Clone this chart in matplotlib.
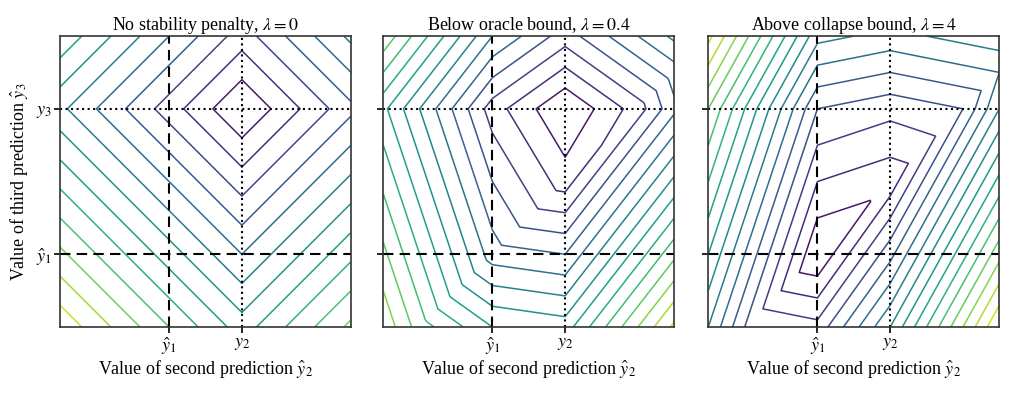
"""Loss landscape of the third forecast revision under a stability penalty.

Loss = |p2 - y2| + |p3 - y3| + lambda * (|p2 - p1| + |p3 - p2|),
drawn over the second (x) and third (y) prediction for three lambdas.
"""
import matplotlib

matplotlib.use("Agg")
import matplotlib.pyplot as plt
import numpy as np

# Reference points (first prediction and the two targets)
y_hat1 = 0.0
y2 = 1.0
y3 = 2.0

# Plot window in prediction units
x_range = [-1.5, 2.5]
y_range = [-1.0, 3.0]

# One panel per penalty strength
lambdas = [0, 0.4, 4]
titles = ["No stability penalty", "Below oracle bound", "Above collapse bound"]
level_starts = [0.0, 0.8, 3.0]
level_steps = [0.4, 0.4, 1.5]

x_ticklabels = [r"$\hat{y}_1$", r"$y_2$"]
y_ticklabels = [r"$\hat{y}_1$", r"$y_3$"]

plt.rcParams["font.family"] = ["Liberation Serif", "DejaVu Serif"]
plt.rcParams["mathtext.fontset"] = "stix"


def loss(p2, p3, lam):
    return np.abs(p2 - y2) + np.abs(p3 - y3) + lam * (np.abs(p2 - y_hat1) + np.abs(p3 - p2))


xs = np.linspace(x_range[0], x_range[1], 161)
ys = np.linspace(y_range[0], y_range[1], 161)
X, Y = np.meshgrid(xs, ys)

fig = plt.figure(figsize=(10.24, 3.95), dpi=100)
lefts = [0.0586, 0.3743, 0.6917]

for i, (lam, title) in enumerate(zip(lambdas, titles)):
    ax = fig.add_axes([lefts[i], 0.172, 0.2842, 0.7367])
    Z = loss(X, Y, lam)
    levels = np.arange(level_starts[i], Z.max(), level_steps[i])
    # norm runs a little past the top level, so the outermost line is yellow-green
    ax.contour(X, Y, Z, levels=levels, cmap="viridis", linewidths=1.1,
               vmin=levels[0], vmax=levels[-1] + level_steps[i])

    ax.axvline(y_hat1, color="black", linestyle=(0, (5, 3)), lw=1.5)
    ax.axhline(y_hat1, color="black", linestyle=(0, (5, 3)), lw=1.5)
    ax.axvline(y2, color="black", linestyle=":", lw=1.5)
    ax.axhline(y3, color="black", linestyle=":", lw=1.5)

    ax.set_xlim(x_range)
    ax.set_ylim(y_range)
    ax.set_xticks([y_hat1, y2])
    ax.set_xticklabels(x_ticklabels, fontsize=13)
    ax.set_yticks([y_hat1, y3])
    if i == 0:
        ax.set_yticklabels(y_ticklabels, fontsize=13)
        ax.set_ylabel(r"Value of third prediction $\hat{y}_3$", fontsize=13)
    else:
        ax.set_yticklabels([])
    ax.set_xlabel(r"Value of second prediction $\hat{y}_2$", fontsize=13, labelpad=1)
    ax.set_title(f"{title}, $\\lambda = {lam}$", fontsize=13, pad=4)
    ax.tick_params(length=4, width=1.2, pad=2)
    for sp in ax.spines.values():
        sp.set_linewidth(1.2)
        sp.set_color("#333333")

fig.savefig("out.png", dpi=100)
